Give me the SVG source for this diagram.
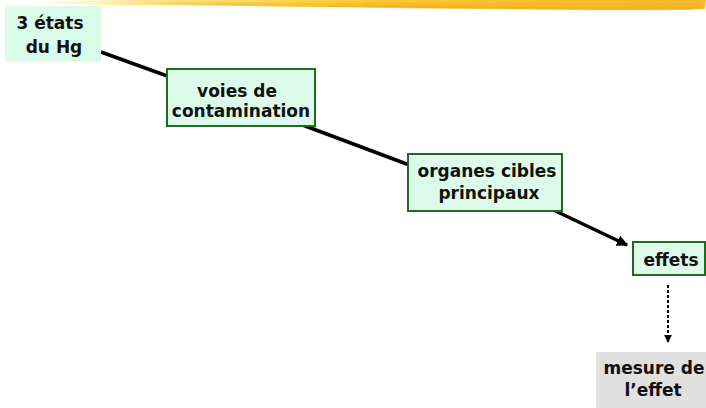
<svg xmlns="http://www.w3.org/2000/svg" width="706" height="408" viewBox="0 0 706 408">
<style>
.t{font-family:"DejaVu Sans","Liberation Sans",sans-serif;font-weight:bold;font-size:17px;fill:#111;text-anchor:middle}
.box{fill:#dcfbea;stroke:#1d6b1d;stroke-width:2}
.ln{stroke:#000;stroke-width:3.5;fill:none;stroke-linecap:butt}
</style>
<defs>
<linearGradient id="brush" x1="0" y1="0" x2="1" y2="0">
<stop offset="0" stop-color="#fff3b0" stop-opacity="0.3"/>
<stop offset="0.15" stop-color="#fde58a"/>
<stop offset="0.5" stop-color="#f9c938"/>
<stop offset="1" stop-color="#f5b92c"/>
</linearGradient>
<marker id="ah" viewBox="0 0 10 10" refX="9" refY="5" markerWidth="3.2" markerHeight="3.2" orient="auto" markerUnits="strokeWidth">
<path d="M0,0 L10,5 L0,10 Z" fill="#000"/>
</marker>
<marker id="ah2" viewBox="0 0 10 10" refX="9" refY="5" markerWidth="4" markerHeight="4" orient="auto" markerUnits="strokeWidth">
<path d="M0,0 L10,5 L0,10 Z" fill="#000"/>
</marker>
</defs>
<g id="header">
<path d="M40,1 C200,-1 450,-1 706,0 L705,9 C620,11 520,9 420,8 C330,7 240,6 110,5 C80,4 60,4 40,3 Z" fill="url(#brush)"/>
<path d="M140,3 C300,2 500,3 703,3 L702,8 C570,9 420,8 260,6 Z" fill="#f4b419" opacity="0.5"/>
<path d="M330,5 C450,6 580,8 700,7 L690,10 C580,11 450,9 330,7 Z" fill="#f0ad1a" opacity="0.5"/>
</g>
<g id="connectors">
<line class="ln" x1="101" y1="52" x2="170" y2="77"/>
<line class="ln" x1="300" y1="124" x2="412" y2="166"/>
<line class="ln" x1="545" y1="206" x2="627" y2="245" marker-end="url(#ah)"/>
<line x1="668" y1="285" x2="668" y2="342" stroke="#000" stroke-width="2" stroke-dasharray="3,2" marker-end="url(#ah2)"/>
</g>
<g id="n1">
<rect x="5" y="6" width="96" height="56" fill="#d9fbe9"/>
<text class="t" x="50" y="29">3 états</text>
<text class="t" x="54" y="53">du Hg</text>
</g>
<g id="n2">
<rect class="box" x="167" y="69" width="148" height="57"/>
<text class="t" x="237" y="97">voies de</text>
<text class="t" x="241" y="117">contamination</text>
</g>
<g id="n3">
<rect class="box" x="408" y="154" width="154" height="57"/>
<text class="t" x="487" y="177">organes cibles</text>
<text class="t" x="489" y="199">principaux</text>
</g>
<g id="n4">
<rect class="box" x="633" y="242" width="72" height="33"/>
<text class="t" x="671" y="266">effets</text>
</g>
<g id="n5">
<rect x="596" y="352" width="110" height="56" fill="#e0e0e0"/>
<text class="t" x="654" y="374">mesure de</text>
<text class="t" x="653" y="396">l’effet</text>
</g>
</svg>
